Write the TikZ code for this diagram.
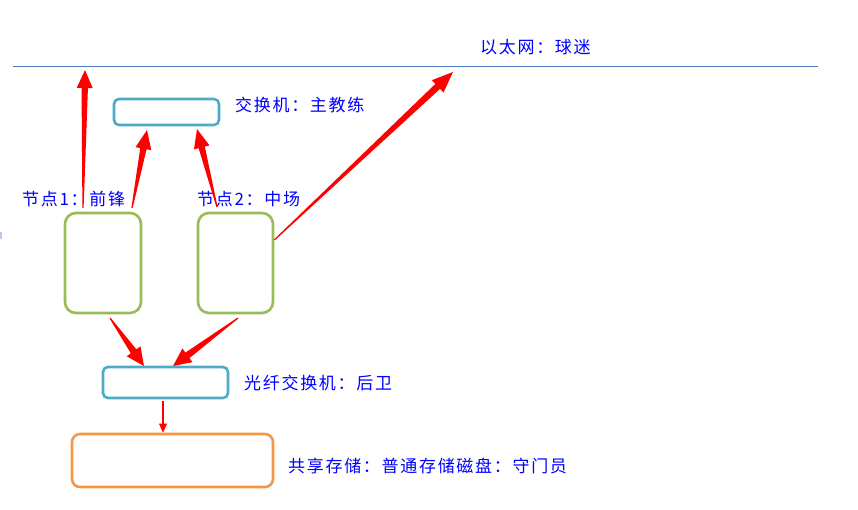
\documentclass[tikz,border=0pt]{standalone}
\usepackage{fontspec}
\newfontfamily\cjk[LetterSpace=10]{Noto Sans CJK SC}
\usetikzlibrary{calc}
\definecolor{tealc}{HTML}{4BACC6}
\definecolor{greenc}{HTML}{9BBB59}
\definecolor{orangec}{HTML}{F79646}
\definecolor{linec}{HTML}{4A7EBB}
\definecolor{txtc}{RGB}{0,0,255}
\newcommand\taperarrow[6]{%
  \coordinate (hb) at ($(#2)!#3!(#1)$);
  \fill[red] ($(#1)!#6!90:(#2)$) -- ($(hb)!#5!90:(#2)$) -- ($(hb)!#4!90:(#2)$) -- (#2)
    -- ($(hb)!#4!-90:(#2)$) -- ($(hb)!#5!-90:(#2)$) -- ($(#1)!#6!-90:(#2)$) -- cycle;}
\tikzset{
  lbl/.style={anchor=west, inner sep=0pt, text=txtc, font=\cjk\fontsize{17}{20}\selectfont},
  box/.style={draw, line width=2.6pt, fill=white, inner sep=0pt},
  tealbox/.style={box, draw=tealc, rounded corners=5pt},
  greenbox/.style={box, draw=greenc, rounded corners=11pt},
  orangebox/.style={box, draw=orangec, rounded corners=8pt},
}
\begin{document}
\begin{tikzpicture}[x=1pt,y=-1pt]
\useasboundingbox (0,0) rectangle (858,509);
% ethernet line
\coordinate (L1) at (13,66);
\coordinate (L2) at (818,66);
\draw[linec, line width=1pt] (L1) -- (L2);
\node[lbl] (eth) at (480,47) {以太网：球迷};
% boxes
\node[tealbox, minimum width=105pt, minimum height=26pt] (sw) at (166.5,112) {};
\node[lbl] (swl) at (235,105) {交换机：主教练};
\node[greenbox, minimum width=76pt, minimum height=100pt] (n1) at (103,263) {};
\node[greenbox, minimum width=75pt, minimum height=100pt] (n2) at (235.5,263) {};
\node[lbl] (n1l) at (22,199) {节点1：前锋};
\node[lbl] (n2l) at (197,199) {节点2：中场};
\node[tealbox, minimum width=125pt, minimum height=31pt] (fs) at (165.5,382.5) {};
\node[lbl] (fsl) at (244,383) {光纤交换机：后卫};
\node[orangebox, minimum width=201pt, minimum height=53pt] (st) at (172.5,460.5) {};
\node[lbl] (stl) at (288,466) {共享存储：普通存储磁盘：守门员};
% small mark at left edge
\fill[linec!40] (0,232) rectangle (1.5,239);
% arrow endpoints
\coordinate (a1s) at (83,208);
\coordinate (a1e) at (85,70);
\coordinate (a2s) at (132,208);
\coordinate (a2e) at (147,130);
\coordinate (a3s) at (217,207);
\coordinate (a3e) at (197,129);
\coordinate (a4s) at (n2.east |- 0,240);
\coordinate (a4e) at (453,72);
\coordinate (a5s) at (110,318);
\coordinate (a5e) at (144,366);
\coordinate (a6s) at (238,318);
\coordinate (a6e) at (173,366);
\coordinate (a7s) at (163,401);
\coordinate (a7e) at (st.north -| a7s);
% arrows
\taperarrow{a1s}{a1e}{18pt}{8pt}{3.2pt}{0.6pt}
\taperarrow{a2s}{a2e}{19pt}{8pt}{3.2pt}{0.6pt}
\taperarrow{a3s}{a3e}{19pt}{8pt}{3.2pt}{0.6pt}
\taperarrow{a4s}{a4e}{21pt}{8.5pt}{3.4pt}{0.6pt}
\taperarrow{a5s}{a5e}{18pt}{8.5pt}{3.4pt}{0.6pt}
\taperarrow{a6s}{a6e}{18pt}{8.5pt}{3.4pt}{0.6pt}
\taperarrow{a7s}{a7e}{9pt}{4pt}{0.9pt}{0.9pt}
\end{tikzpicture}
\end{document}
